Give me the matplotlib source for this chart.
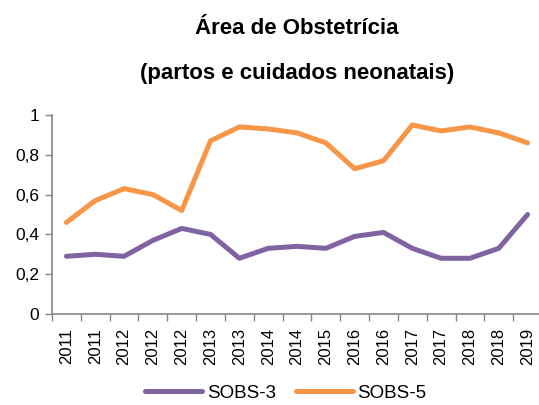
import matplotlib
matplotlib.use("Agg")
import matplotlib.pyplot as plt
from matplotlib.ticker import FixedLocator, NullFormatter

plt.rcParams['font.family'] = ['Liberation Sans', 'DejaVu Sans']

categories = ["2011", "2011", "2012", "2012", "2012", "2013", "2013", "2014", "2014",
              "2015", "2016", "2016", "2017", "2017", "2018", "2018", "2019"]
sobs3 = [0.29, 0.30, 0.29, 0.37, 0.43, 0.40, 0.28, 0.33, 0.34, 0.33, 0.39, 0.41,
         0.33, 0.28, 0.28, 0.33, 0.50]
sobs5 = [0.46, 0.57, 0.63, 0.60, 0.52, 0.87, 0.94, 0.93, 0.91, 0.86, 0.73, 0.77,
         0.95, 0.92, 0.94, 0.91, 0.86]
yticks = [0, 0.2, 0.4, 0.6, 0.8, 1.0]
ylabels = ["0", "0,2", "0,4", "0,6", "0,8", "1"]

W, H = 539, 405
fig = plt.figure(figsize=(W / 100, H / 100), dpi=100)
ax = fig.add_axes([52 / W, (H - 314) / H, 490 / W, 199 / H])

x = list(range(len(categories)))
ax.plot(x, sobs3, color="#8064A2", lw=3.6, solid_capstyle="round", label="SOBS-3")
ax.plot(x, sobs5, color="#F79646", lw=3.6, solid_capstyle="round", label="SOBS-5")

ax.set_xlim(-0.5, len(categories) - 0.5)
ax.set_ylim(0, 1)

ax.set_xticks(x)
ax.set_xticklabels(categories, rotation=90, fontsize=12)
ax.tick_params(axis="x", which="major", length=0, pad=10)
ax.xaxis.set_minor_locator(FixedLocator([i - 0.5 for i in range(len(categories) + 1)]))
ax.xaxis.set_minor_formatter(NullFormatter())
ax.tick_params(axis="x", which="minor", length=5, color="#868686", width=1)

ax.set_yticks(yticks)
ax.set_yticklabels(ylabels, fontsize=12.5)
ax.tick_params(axis="y", length=5, color="#868686", width=1, pad=4)

for s in ["top", "right"]:
    ax.spines[s].set_visible(False)
for s in ["left", "bottom"]:
    ax.spines[s].set_color("#868686")
    ax.spines[s].set_linewidth(1.2)

cx = (52 + 542) / 2 / W
fig.text(cx, 1 - 28 / H, "Área de Obstetrícia", ha="center", va="center",
         fontsize=16, fontweight="bold")
fig.text(cx, 1 - 73 / H, "(partos e cuidados neonatais)", ha="center", va="center",
         fontsize=16, fontweight="bold")

fig.legend(loc="center", bbox_to_anchor=(286 / W, 1 - 393 / H), ncol=2, frameon=False,
           fontsize=13.5, handlelength=3.0, columnspacing=1.1, handletextpad=0.27)

fig.savefig("out.png", dpi=100)
